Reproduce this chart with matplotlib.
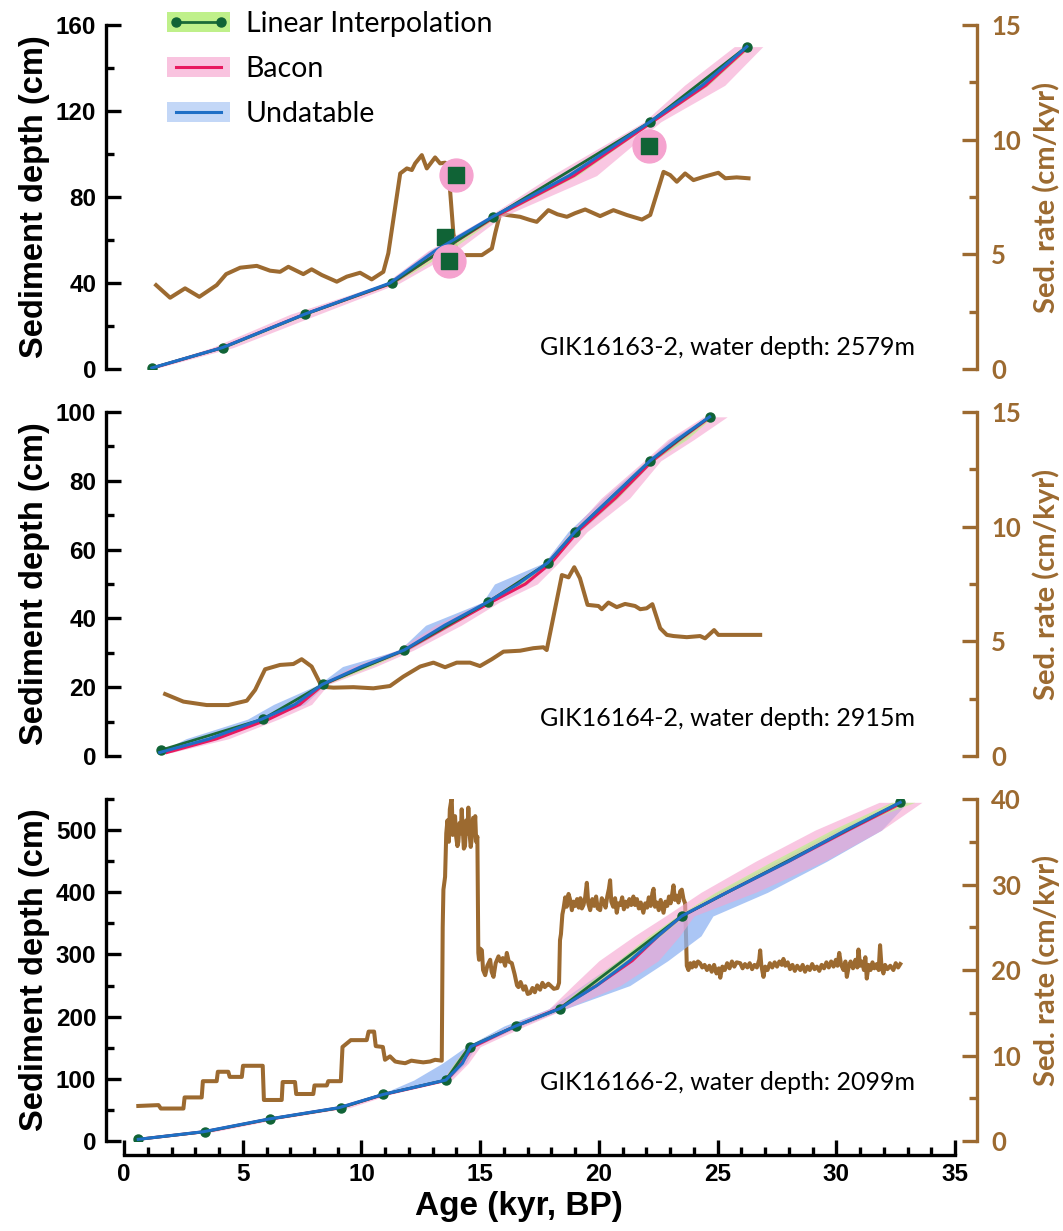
import matplotlib.pyplot as plt
from matplotlib.lines import Line2D
from matplotlib.patches import Patch
from matplotlib.ticker import MultipleLocator

BROWN = '#9c6a30'
LI_LINE, LI_FILL = '#1b6a38', '#bff08a'
BAC_LINE, BAC_FILL = '#e8195f', '#f5a3cf'
UND_LINE, UND_FILL = '#1f6fc6', '#8fb4f2'
DARK_GREEN = '#106336'

# ---------------- GIK16163-2 ----------------
p1_li_age = [1.17, 4.17, 7.62, 11.27, 15.55, 22.16, 26.23]
p1_li_depth = [0.5, 10, 25.5, 40, 70.7, 115, 150]
p1_grid = [0.5, 10, 25.5, 40, 55, 70.7, 90, 115, 132, 150]
p1_li_lo = [1.1, 4.05, 7.5, 11.15, 13.2, 15.4, 18.6, 22.0, 24.2, 26.05]
p1_li_hi = [1.25, 4.3, 7.75, 11.4, 13.7, 15.7, 19.1, 22.3, 24.6, 26.4]
p1_bac_mid = [1.2, 4.15, 7.6, 11.3, 13.35, 15.6, 18.95, 22.25, 24.5, 26.3]
p1_bac_lo = [1.0, 3.7, 7.0, 11.0, 12.8, 15.3, 18.0, 21.9, 23.6, 25.7]
p1_bac_hi = [1.4, 4.6, 8.2, 11.6, 14.0, 15.9, 19.9, 22.6, 25.3, 26.9]
p1_und_mid = [1.17, 4.15, 7.6, 11.2, 13.1, 15.5, 18.75, 22.15, 24.35, 26.23]
p1_und_lo = [1.1, 4.0, 7.45, 11.05, 12.85, 15.35, 18.45, 22.0, 24.1, 26.1]
p1_und_hi = [1.25, 4.3, 7.75, 11.35, 13.4, 15.65, 19.05, 22.3, 24.6, 26.35]
p1_out_age = [14.0, 13.7, 22.1]
p1_out_depth = [90.2, 50.4, 103.7]
p1_sq_age = [13.52]
p1_sq_depth = [61.4]
p1_sr_age = [1.35, 1.94, 2.57, 3.17, 3.90, 4.30, 4.89, 5.59, 6.15, 6.57, 6.92, 7.55, 7.90,
             8.33, 8.96, 9.38, 9.94, 10.43, 10.92, 11.13, 11.63, 11.91, 12.12, 12.26, 12.54,
             12.75, 13.10, 13.31, 13.52, 13.66, 13.73, 13.87, 14.01, 14.29, 15.07, 15.49,
             15.63, 15.84, 16.12, 16.68, 17.10, 17.38, 17.87, 18.25, 18.65, 19.0, 19.42,
             20.05, 20.61, 21.17, 21.81, 22.16, 22.72, 23.0, 23.28, 23.63, 23.98, 24.4,
             25.03, 25.32, 25.8, 26.3]
p1_sr = [3.66, 3.11, 3.52, 3.15, 3.66, 4.14, 4.42, 4.50, 4.29, 4.24, 4.46, 4.14, 4.35,
         4.10, 3.81, 4.03, 4.20, 3.91, 4.24, 5.05, 8.53, 8.75, 8.68, 8.97, 9.33,
         8.75, 9.23, 8.97, 9.0, 8.82, 7.8, 5.92, 5.05, 4.97, 4.97, 5.26,
         5.92, 6.79, 6.72, 6.64, 6.5, 6.42, 6.93, 6.75, 6.64, 6.8, 6.96,
         6.67, 6.93, 6.72, 6.52, 6.72, 8.6, 8.46, 8.17, 8.53, 8.24, 8.38,
         8.56, 8.32, 8.36, 8.32]

# ---------------- GIK16164-2 ----------------
p2_li_age = [1.56, 5.84, 8.37, 11.81, 15.32, 17.87, 19.0, 22.16, 24.66]
p2_li_depth = [1.7, 10.7, 20.8, 30.8, 44.7, 56.2, 65.2, 85.8, 98.6]
p2_grid = [1, 5, 10.7, 15, 20.8, 26, 30.8, 38, 44.7, 50, 56.2, 65.2, 75, 85.8, 92, 98.6]
p2_li_lo = [1.45, 3.6, 5.7, 7.1, 8.25, 10.0, 11.7, 13.4, 15.2, 16.6, 17.75, 18.85, 20.4, 22.0, 23.3, 24.5]
p2_li_hi = [1.65, 3.9, 5.95, 7.4, 8.5, 10.4, 11.95, 13.8, 15.45, 16.9, 18.0, 19.15, 20.8, 22.3, 23.7, 24.8]
p2_bac_mid = [1.8, 3.9, 6.1, 7.4, 8.4, 10.1, 11.85, 13.7, 15.45, 16.9, 18.0, 19.1, 20.7, 22.25, 23.4, 24.7]
p2_bac_lo = [1.6, 3.4, 5.6, 7.0, 8.2, 9.6, 11.5, 13.1, 15.1, 16.3, 17.7, 18.8, 20.1, 21.9, 22.9, 24.4]
p2_bac_hi = [2.0, 4.4, 6.5, 7.9, 8.6, 10.6, 12.2, 14.2, 15.8, 17.4, 18.3, 19.5, 21.3, 22.6, 24.0, 25.4]
p2_und_mid = [1.5, 3.6, 5.8, 7.2, 8.35, 10.0, 11.8, 13.5, 15.3, 16.6, 17.85, 19.0, 20.5, 22.15, 23.3, 24.66]
p2_und_lo = [1.45, 2.6, 5.2, 6.3, 8.2, 9.2, 11.6, 12.7, 15.1, 15.6, 17.7, 18.7, 20.2, 22.0, 23.0, 24.55]
p2_und_hi = [1.6, 3.9, 6.0, 7.6, 8.5, 10.3, 12.0, 13.8, 15.5, 17.0, 18.0, 19.2, 20.8, 22.3, 23.6, 24.75]
p2_sr_age = [1.73, 2.5, 3.48, 4.39, 5.17, 5.52, 5.94, 6.57, 7.13, 7.48, 7.9, 8.33, 8.82,
             9.66, 10.5, 11.2, 11.76, 12.47, 13.03, 13.52, 14.01, 14.57, 14.99, 15.49,
             15.98, 16.68, 17.24, 17.66, 17.8, 18.44, 18.72, 18.96, 19.2, 19.52, 19.98,
             20.12, 20.40, 20.75, 21.1, 21.52, 21.74, 22.01, 22.25, 22.58, 22.86, 23.14,
             23.70, 24.26, 24.47, 24.85, 25.03, 26.79]
p2_sr = [2.70, 2.37, 2.22, 2.22, 2.41, 2.88, 3.78, 3.97, 4.01, 4.22, 3.9, 3.02, 2.98,
         3.0, 2.95, 3.05, 3.46, 3.9, 4.07, 3.87, 4.07, 4.07, 3.92, 4.22,
         4.55, 4.59, 4.70, 4.74, 4.62, 7.89, 7.79, 8.23, 7.75, 6.59, 6.54,
         6.40, 6.69, 6.49, 6.63, 6.54, 6.40, 6.44, 6.62, 5.57, 5.28, 5.23,
         5.18, 5.23, 5.13, 5.49, 5.28, 5.28]

# ---------------- GIK16166-2 ----------------
p3_li_age = [0.6, 3.41, 6.15, 9.13, 10.92, 13.55, 14.55, 16.5, 18.34, 23.49, 32.69]
p3_li_depth = [2.7, 15, 35.4, 53.6, 75, 98, 151.7, 185, 212.8, 361.9, 544.7]
p3_grid = [2.7, 15, 35.4, 53.6, 75, 98, 125, 151.7, 185, 212.8, 250, 290, 330, 361.9, 400, 450, 500, 544.7]
p3_li_lo = [0.55, 3.3, 6.05, 9.0, 10.85, 13.45, 13.9, 14.45, 16.4, 18.2, 19.4, 20.8, 22.1, 23.3, 24.9, 27.3, 29.8, 32.3]
p3_li_hi = [0.65, 3.5, 6.25, 9.25, 11.0, 13.65, 14.2, 14.65, 16.6, 18.45, 19.8, 21.2, 22.6, 23.6, 25.2, 27.7, 30.2, 33.3]
p3_bac_mid = [0.6, 3.4, 6.15, 9.1, 10.95, 13.6, 14.2, 14.7, 16.5, 18.3, 19.9, 21.4, 22.5, 23.5, 25.4, 28.0, 30.5, 32.8]
p3_bac_lo = [0.45, 3.0, 5.8, 8.7, 10.7, 13.4, 13.9, 14.4, 16.2, 17.9, 18.9, 20.0, 21.5, 22.8, 24.3, 26.6, 29.1, 31.8]
p3_bac_hi = [0.75, 3.8, 6.5, 9.5, 11.2, 13.8, 14.5, 15.0, 16.9, 18.6, 20.9, 22.5, 23.4, 24.0, 26.6, 29.5, 31.9, 33.6]
p3_und_mid = [0.6, 3.35, 6.1, 9.05, 10.92, 13.55, 14.25, 14.6, 16.5, 18.34, 19.9, 21.3, 22.5, 23.49, 25.4, 28.0, 30.4, 32.69]
p3_und_lo = [0.55, 3.2, 5.9, 8.8, 10.8, 12.2, 13.4, 14.4, 16.0, 17.9, 19.3, 20.8, 22.2, 23.3, 25.0, 27.5, 30.0, 32.5]
p3_und_hi = [0.65, 3.5, 6.25, 9.25, 11.05, 13.65, 14.4, 14.8, 16.7, 18.6, 21.3, 22.9, 24.3, 24.8, 27.1, 29.6, 31.9, 33.0]
p3_sr_age = [
    0.60, 1.45, 1.55, 2.50, 2.55, 3.27, 3.32, 3.90, 3.95, 4.39, 4.45, 4.96, 5.01, 5.84, 5.89,
    6.64, 6.68, 7.20, 7.25, 7.97, 8.02, 8.54, 8.60, 9.13, 9.20, 9.55, 10.22, 10.30, 10.53,
    10.60, 10.90, 10.99, 11.2, 11.42, 11.6, 11.84, 12.1, 12.33, 12.6, 12.89, 13.1, 13.38,
    13.42, 13.45, 13.52, 13.57, 13.62, 13.68, 13.72, 13.80, 13.84, 13.90, 13.94, 13.99,
    14.04, 14.08, 14.13, 14.18, 14.22, 14.27, 14.31, 14.36, 14.41, 14.46, 14.50, 14.55,
    14.60, 14.65, 14.70, 14.75, 14.79, 14.83, 14.88, 14.92,
    14.95, 15.0, 15.07, 15.12, 15.21, 15.3, 15.42, 15.48, 15.56, 15.65, 15.77, 15.85, 15.95,
    16.05, 16.12, 16.2, 16.33, 16.45, 16.55, 16.61, 16.7, 16.82, 16.9, 17.0, 17.1, 17.2,
    17.3, 17.4, 17.52, 17.62, 17.72, 17.87, 17.95, 18.1, 18.25, 18.32,
    18.36, 18.40, 18.46, 18.51, 18.58, 18.64, 18.72, 18.79, 18.86, 18.93, 19.0, 19.08,
    19.15, 19.22, 19.28, 19.35, 19.42, 19.49, 19.55, 19.63, 19.72, 19.80, 19.88, 19.95,
    20.05, 20.12, 20.2, 20.28, 20.35, 20.42, 20.47, 20.52, 20.6, 20.68, 20.75, 20.82,
    20.9, 20.98, 21.05, 21.12, 21.2, 21.28, 21.36, 21.45, 21.52, 21.6, 21.68, 21.76,
    21.87, 21.95, 22.03, 22.1, 22.18, 22.25, 22.3, 22.36, 22.44, 22.52, 22.6, 22.67,
    22.72, 22.8, 22.88, 22.95, 23.02, 23.08, 23.14, 23.2, 23.28, 23.35, 23.42, 23.49,
    23.56, 23.63,
    23.70, 23.77, 23.85, 23.92, 24.0, 24.08, 24.17, 24.26, 24.35, 24.45, 24.55, 24.65,
    24.75, 24.85, 24.95, 25.05, 25.11, 25.2, 25.3, 25.4, 25.5, 25.6, 25.7, 25.8, 25.95,
    26.05, 26.15, 26.25, 26.35, 26.45, 26.55, 26.65, 26.75, 26.79, 26.84, 26.93, 27.0,
    27.1, 27.2, 27.3, 27.4, 27.5, 27.6, 27.7, 27.77, 27.85, 27.95, 28.05, 28.15, 28.25,
    28.35, 28.48, 28.58, 28.68, 28.78, 28.88, 28.98, 29.08, 29.18, 29.28, 29.38, 29.48,
    29.58, 29.68, 29.78, 29.88, 29.98, 30.05, 30.12, 30.2, 30.3, 30.38, 30.44, 30.52,
    30.6, 30.7, 30.8, 30.88, 30.93, 31.0, 31.08, 31.16, 31.22, 31.28, 31.36, 31.44,
    31.52, 31.6, 31.7, 31.78, 31.84, 31.9, 31.98, 32.05, 32.15, 32.27, 32.4, 32.5,
    32.6, 32.69]
p3_sr = [
    4.1, 4.2, 3.8, 3.8, 5.1, 5.1, 7.0, 7.0, 8.1, 8.1, 7.5, 7.5, 8.8, 8.8, 4.8,
    4.8, 6.9, 6.9, 5.5, 5.5, 6.5, 6.5, 7.0, 7.0, 11.0, 11.8, 11.8, 12.8, 12.8,
    11.1, 11.0, 9.5, 9.9, 9.3, 9.2, 9.1, 9.4, 9.3, 9.2, 9.3, 9.5, 9.4,
    25.0, 29.4, 30.9, 36.0, 37.5, 35.0, 38.8, 40.2, 35.8, 37.0, 38.0, 35.5,
    34.5, 35.0, 37.2, 36.0, 38.8, 36.2, 34.2, 34.5, 37.5, 36.0, 39.0, 36.0,
    34.4, 35.5, 37.8, 36.5, 38.0, 35.0, 35.6, 22.0,
    21.2, 22.5, 22.3, 20.0, 19.4, 20.5, 21.2, 19.8, 19.2, 20.8, 21.6, 21.0, 21.4,
    20.5, 22.0, 21.0, 20.8, 19.5, 18.2, 18.0, 18.6, 17.7, 18.1, 17.2, 17.3, 17.9,
    17.4, 18.2, 17.7, 18.5, 18.0, 18.4, 18.2, 17.8, 17.9, 18.5,
    23.5, 24.2, 26.5, 27.2, 28.5, 27.4, 28.9, 28.2, 27.0, 28.0, 27.5, 28.3,
    27.3, 28.4, 27.2, 27.6, 28.5, 30.2, 27.8, 27.0, 28.3, 27.5, 28.6, 27.2,
    27.0, 28.4, 28.0, 27.3, 28.6, 29.5, 30.5, 28.0, 27.4, 28.4, 26.7, 27.8,
    27.6, 28.5, 27.1, 28.0, 27.4, 28.3, 27.6, 28.6, 27.6, 28.3, 27.2, 27.9,
    26.7, 27.8, 27.3, 28.5, 27.5, 29.0, 29.5, 27.4, 27.9, 27.0, 28.2, 27.3,
    26.7, 28.0, 27.5, 28.6, 27.8, 28.8, 29.9, 28.2, 28.7, 27.9, 29.2, 29.4,
    28.3, 27.8,
    20.5, 20.0, 20.8, 20.3, 20.9, 20.4, 21.0, 20.8, 20.3, 20.6, 20.0, 20.5,
    19.8, 20.6, 19.6, 20.2, 19.1, 20.4, 20.0, 20.8, 20.2, 21.0, 20.4, 20.9, 20.8,
    20.2, 20.7, 20.3, 20.8, 20.1, 20.6, 20.3, 21.2, 22.3, 20.5, 19.2, 20.4,
    20.0, 20.8, 20.3, 20.9, 20.4, 21.0, 20.6, 21.3, 20.5, 20.9, 20.1, 20.6, 19.9,
    20.5, 20.0, 20.6, 19.8, 20.4, 20.0, 20.7, 20.1, 20.4, 19.9, 20.6, 20.2,
    20.9, 20.3, 21.0, 20.4, 21.2, 20.5, 22.0, 20.6, 20.0, 21.0, 19.2, 20.4,
    21.0, 20.2, 21.2, 20.3, 22.4, 20.5, 21.0, 20.0, 21.5, 19.0, 20.6, 20.0,
    20.9, 20.2, 20.7, 20.0, 22.9, 20.4, 19.6, 20.6, 20.1, 20.5, 20.0, 20.8,
    20.3, 20.7]

panels = [
    dict(li=(p1_li_age, p1_li_depth), grid=p1_grid, li_band=(p1_li_lo, p1_li_hi),
         bac=(p1_bac_mid, p1_bac_lo, p1_bac_hi), und=(p1_und_mid, p1_und_lo, p1_und_hi),
         sr=(p1_sr_age, p1_sr), ylim=160, ymaj=40, ymin=20, rlim=15, rmaj=5, rmin=2.5,
         label='GIK16163-2, water depth: 2579m', ly=0.062),
    dict(li=(p2_li_age, p2_li_depth), grid=p2_grid, li_band=(p2_li_lo, p2_li_hi),
         bac=(p2_bac_mid, p2_bac_lo, p2_bac_hi), und=(p2_und_mid, p2_und_lo, p2_und_hi),
         sr=(p2_sr_age, p2_sr), ylim=100, ymaj=20, ymin=10, rlim=15, rmaj=5, rmin=2.5,
         label='GIK16164-2, water depth: 2915m', ly=0.11),
    dict(li=(p3_li_age, p3_li_depth), grid=p3_grid, li_band=(p3_li_lo, p3_li_hi),
         bac=(p3_bac_mid, p3_bac_lo, p3_bac_hi), und=(p3_und_mid, p3_und_lo, p3_und_hi),
         sr=(p3_sr_age, p3_sr), ylim=550, ymaj=100, ymin=50, rlim=40, rmaj=10, rmin=5,
         label='GIK16166-2, water depth: 2099m', ly=0.17),
]

NUM_FONT = ['Liberation Sans']
SOFT_FONT = ['Lato', 'DejaVu Sans']

fig = plt.figure(figsize=(10.63, 12.31), dpi=100)
boxes = [[0.1167, 0.7002, 0.7818, 0.2794],
         [0.1167, 0.3859, 0.7818, 0.2794],
         [0.1167, 0.0731, 0.7818, 0.2778]]

for i, (p, box) in enumerate(zip(panels, boxes)):
    ax = fig.add_axes(box)
    ax2 = ax.twinx()
    ax.set_zorder(ax2.get_zorder() + 1)
    ax.patch.set_visible(False)

    # sedimentation rate
    ax2.plot(p['sr'][0], p['sr'][1], color=BROWN, lw=2.9, solid_joinstyle='round')
    ax2.set_ylim(0, p['rlim'])

    # age-depth models
    g = p['grid']
    ax.fill_betweenx(g, p['und'][1], p['und'][2], color=UND_FILL, alpha=0.75, lw=0, zorder=1)
    ax.fill_betweenx(g, p['bac'][1], p['bac'][2], color=BAC_FILL, alpha=0.6, lw=0, zorder=1.1)
    ax.fill_betweenx(g, p['li_band'][0], p['li_band'][1], color=LI_FILL, alpha=0.7, lw=0, zorder=1.2)
    ax.plot(p['bac'][0], g, color=BAC_LINE, lw=2.2, zorder=2)
    ax.plot(p['li'][0], p['li'][1], color=LI_LINE, lw=2.0, marker='o', ms=6.5,
            mfc=DARK_GREEN, mec=DARK_GREEN, zorder=3)
    ax.plot(p['und'][0], g, color=UND_LINE, lw=2.2, zorder=4)

    if i == 0:
        ax.scatter(p1_sq_age, p1_sq_depth, marker='s', s=120, color=DARK_GREEN, zorder=2.5)
        ax.scatter(p1_out_age, p1_out_depth, marker='o', s=560, color=BAC_FILL, zorder=5)
        ax.scatter(p1_out_age, p1_out_depth, marker='s', s=120, color=DARK_GREEN, zorder=6)
        handles = [(Patch(fc=LI_FILL, ec='none'),
                    Line2D([], [], color=LI_LINE, lw=2, marker='o', ms=6.5, mfc=DARK_GREEN, mec=DARK_GREEN)),
                   (Patch(fc='#f9c3df', ec='none'), Line2D([], [], color=BAC_LINE, lw=2.2)),
                   (Patch(fc='#c3d7f7', ec='none'), Line2D([], [], color=UND_LINE, lw=2.2))]
        ax.legend(handles, ['Linear Interpolation', 'Bacon', 'Undatable'], loc='upper left',
                  bbox_to_anchor=(0.052, 1.04), frameon=False, numpoints=2, handlelength=2.2,
                  handleheight=0.7, handletextpad=0.55, labelspacing=0.66, borderpad=0,
                  borderaxespad=0, prop=dict(family=SOFT_FONT, size=20.5))

    ax.set_xlim(0, 35)
    ax.set_ylim(0, p['ylim'])
    ax.yaxis.set_major_locator(MultipleLocator(p['ymaj']))
    ax.yaxis.set_minor_locator(MultipleLocator(p['ymin']))
    ax2.yaxis.set_major_locator(MultipleLocator(p['rmaj']))
    ax2.yaxis.set_minor_locator(MultipleLocator(p['rmin']))

    for s in ['top', 'right', 'bottom']:
        ax.spines[s].set_visible(False)
    for s in ['top', 'left', 'bottom']:
        ax2.spines[s].set_visible(False)
    ax.spines['left'].set_position(('outward', 13))
    ax.spines['left'].set_linewidth(2.4)
    ax2.spines['right'].set_position(('outward', 16))
    ax2.spines['right'].set_linewidth(2.4)
    ax2.spines['right'].set_color(BROWN)

    ax.tick_params(axis='y', which='major', direction='in', length=11, width=2.4, pad=7,
                   labelsize=17.5)
    ax.tick_params(axis='y', which='minor', direction='in', length=6, width=2.4)
    ax2.tick_params(axis='y', which='major', direction='in', length=11, width=2.4, pad=10,
                    labelsize=18.5, colors=BROWN)
    ax2.tick_params(axis='y', which='minor', direction='in', length=6, width=2.4, colors=BROWN)
    for t in ax.get_yticklabels():
        t.set_family(NUM_FONT)
        t.set_fontweight('bold')
    for t in ax2.get_yticklabels():
        t.set_family(SOFT_FONT)
        t.set_fontweight('bold')

    ax.set_ylabel('Sediment depth (cm)', fontsize=23.5, fontweight='bold',
                  family=NUM_FONT, labelpad=4)
    ax2.set_ylabel('Sed. rate (cm/kyr)', fontsize=21, fontweight='bold', color=BROWN,
                   family=SOFT_FONT, labelpad=8)
    ax.text(0.952, p['ly'], p['label'], transform=ax.transAxes, ha='right', va='center',
            fontsize=18, family=SOFT_FONT)

    if i < 2:
        ax.tick_params(axis='x', which='both', bottom=False, labelbottom=False)
        ax2.tick_params(axis='x', which='both', bottom=False, labelbottom=False)
    else:
        ax.spines['bottom'].set_visible(True)
        ax.spines['bottom'].set_position(('outward', 10))
        ax.spines['bottom'].set_linewidth(2.4)
        ax.xaxis.set_major_locator(MultipleLocator(5))
        ax.xaxis.set_minor_locator(MultipleLocator(1))
        ax.tick_params(axis='x', which='major', direction='in', length=11, width=2.4, pad=6,
                       labelsize=17.5)
        ax.tick_params(axis='x', which='minor', direction='in', length=6, width=2.4)
        for t in ax.get_xticklabels():
            t.set_family(NUM_FONT)
            t.set_fontweight('bold')
        ax.set_xlabel('Age (kyr, BP)', fontsize=24, fontweight='bold', family=NUM_FONT)
        ax.xaxis.set_label_coords(0.475, -0.145)

fig.savefig('out.png', dpi=100)
